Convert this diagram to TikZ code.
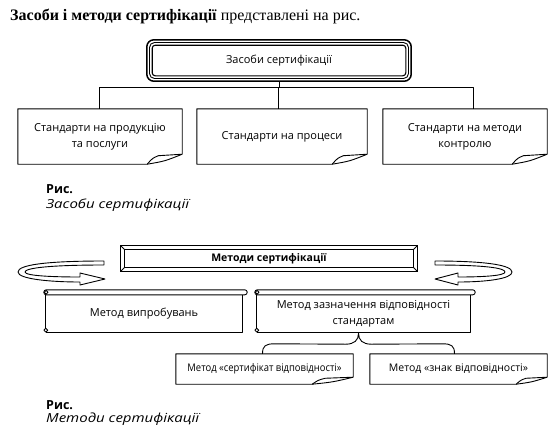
\documentclass[tikz,border=0pt]{standalone}
\usepackage{fontspec}
\setmainfont{Liberation Serif}
\newfontfamily\dia{Open Sans}
\usetikzlibrary{calc}
\newcommand{\foldedge}[3]{%
 \draw[ln] ($(#1.south east)+(0,-#3)$) -- (#1.north east) -- (#1.north west) -- (#1.south west) -- ($(#1.south east)+(-#2,0)$) .. controls ($(#1.south east)+(-0.5*#2,-0.3*#3)$) .. ($(#1.south east)+(0,-#3)$);
 \draw[ln] ($(#1.south east)+(-#2,0)$) .. controls ($(#1.south east)+(-0.85*#2,-0.6*#3)$) .. ($(#1.south east)+(-0.68*#2,-0.85*#3)$) -- ($(#1.south east)+(0,-#3)$);
}
\newcommand{\scrolldeco}[1]{%
 \draw[ln, rounded corners=2.4pt] ($(#1.north west)+(-2,-5)$) rectangle ($(#1.north east)+(5,0)$);
 \draw[ln] (#1.north west) -- ($(#1.south west)+(0,-2)$);
 \draw[ln] (#1.south west) -- (#1.south east) -- (#1.north east);
 \draw[ln, fill=white] ($(#1.north west)+(0.3,-2.5)$) circle (1.9pt);
 \draw[ln, fill=white] ($(#1.south west)+(0,-2)$) circle (1.9pt);
}
\begin{document}
\begin{tikzpicture}[x=1pt,y=-1pt,
  txt/.style={font=\dia\fontsize{11}{16}\selectfont, align=center, inner sep=0pt},
  bignode/.style={txt, minimum width=#1, minimum height=55pt},
  smallnode/.style={txt, font=\dia\fontsize{10.5}{12}\selectfont, minimum width=#1, minimum height=30pt},
  scrollnode/.style={txt, minimum width=#1, minimum height=37pt},
  ln/.style={line width=0.9pt, line join=round},
  captxt/.style={anchor=west, inner sep=0pt}]
\useasboundingbox (0,0) rectangle (554,426);

% title
\node[captxt, font=\fontsize{16}{19}\selectfont] (title) at (10,16)
  {\textbf{Засоби і методи сертифікації} представлені на рис.};

% top box
\node[txt, minimum width=264pt, minimum height=41pt] (zb) at (279,60.5) {Засоби сертифікації};
\draw[line width=1.5pt, rounded corners=7pt] (zb.north west) rectangle (zb.south east);
\draw[line width=0.9pt, rounded corners=5pt] ($(zb.north west)+(2.7,2.7)$) rectangle ($(zb.south east)+(-2.7,-2.7)$);
\draw[line width=1.1pt, rounded corners=3pt] ($(zb.north west)+(5.4,5.4)$) rectangle ($(zb.south east)+(-5.4,-5.4)$);

% three folded boxes
\node[bignode=164pt] (b1) at (100,136.5) {Стандарти на продукцію\\та послуги};
\node[bignode=170pt] (b2) at (282,136.5) {Стандарти на процеси};
\node[bignode=164pt] (b3) at (465,136.5) {Стандарти на методи\\контролю};
\foldedge{b1}{35}{10}
\foldedge{b2}{35}{10}
\foldedge{b3}{35}{10}

\coordinate (bus) at (0,87);
\draw[ln] (zb.south) -- (zb.south |- bus);
\draw[ln] ([xshift=-1pt]b1.north) |- ([xshift=8pt]b3.north |- bus) -- ([xshift=8pt]b3.north);
\draw[ln] ([xshift=-4pt]b2.north) -- ([xshift=-4pt]b2.north |- bus);

% caption 1
\node[captxt, font=\dia\bfseries\fontsize{12.5}{14}\selectfont] (r1) at (46,189) {Рис.};
\node[captxt, font=\dia\itshape\fontsize{12.5}{14}\selectfont] (c1) at (46,205) {\scalebox{1.2}[1]{Засоби сертифікації}};

% methods box
\node[txt, font=\dia\bfseries\fontsize{10.5}{12}\selectfont, minimum width=296pt, minimum height=25pt] (mc) at (269,258.5) {Методи сертифікації};
\draw[line width=1.1pt] (mc.north west) rectangle (mc.south east);
\draw[line width=0.8pt] ($(mc.north west)+(3.5,3.5)$) rectangle ($(mc.south east)+(-3.5,-3.5)$);
\draw[line width=0.8pt] (mc.north west) -- ++(3.5,3.5);
\draw[line width=0.8pt] (mc.north east) -- ++(-3.5,3.5);
\draw[line width=0.8pt] (mc.south west) -- ++(3.5,-3.5);
\draw[line width=0.8pt] (mc.south east) -- ++(-3.5,-3.5);

% curved hollow arrows
\draw[ln, fill=white] (104,261) .. controls (45,261) and (18,265) .. (18,272)
  .. controls (18,279) and (50,282) .. (80,282) -- (80,285) -- (105,279) -- (80,273) -- (80,277)
  .. controls (55,277) and (25,276) .. (25,272) .. controls (25,268) and (50,265) .. (104,265) -- cycle;
\draw[ln, fill=white] (435,261) .. controls (485,261) and (512,265) .. (512,272)
  .. controls (512,279) and (485,282) .. (458,282) -- (458,285) -- (435,279) -- (458,273) -- (458,277)
  .. controls (480,277) and (505,276) .. (505,272) .. controls (505,268) and (485,265) .. (435,265) -- cycle;

% scrolls
\node[scrollnode=196pt] (s1) at (144,313.5) {Метод випробувань};
\node[scrollnode=213pt] (s2) at (363.5,313.5) {Метод зазначення відповідності\\стандартам};
\scrolldeco{s1}
\scrolldeco{s2}

% small folded boxes
\node[smallnode=177pt] (bA) at (264.5,369) {\scalebox{0.9}[1]{Метод «сертифікат відповідності»}};
\node[smallnode=177pt] (bB) at (458.5,369) {Метод «знак відповідності»};
\foldedge{bA}{41}{7}
\foldedge{bB}{31}{7}

% brace
\coordinate (tip) at ($(s2.south)+(-5,1)$);
\draw[ln] ([xshift=-2pt]bA.north) .. controls +(0,-8) and +(-9,0) .. ++(12,-10)
  -- ($(tip)+(-13,11)$) .. controls +(9,0) and +(0,7) .. (tip)
  .. controls +(0,7) and +(-9,0) .. ++(13,11)
  -- ($(bB.north)+(-16,-10)$) .. controls +(9,0) and +(0,-8) .. ([xshift=-4pt]bB.north);

% caption 2
\node[captxt, font=\dia\bfseries\fontsize{12.5}{14}\selectfont] (r2) at (46,405) {Рис.};
\node[captxt, font=\dia\itshape\fontsize{12.5}{14}\selectfont] (c2) at (46,419) {\scalebox{1.2}[1]{Методи сертифікації}};
\end{tikzpicture}
\end{document}
